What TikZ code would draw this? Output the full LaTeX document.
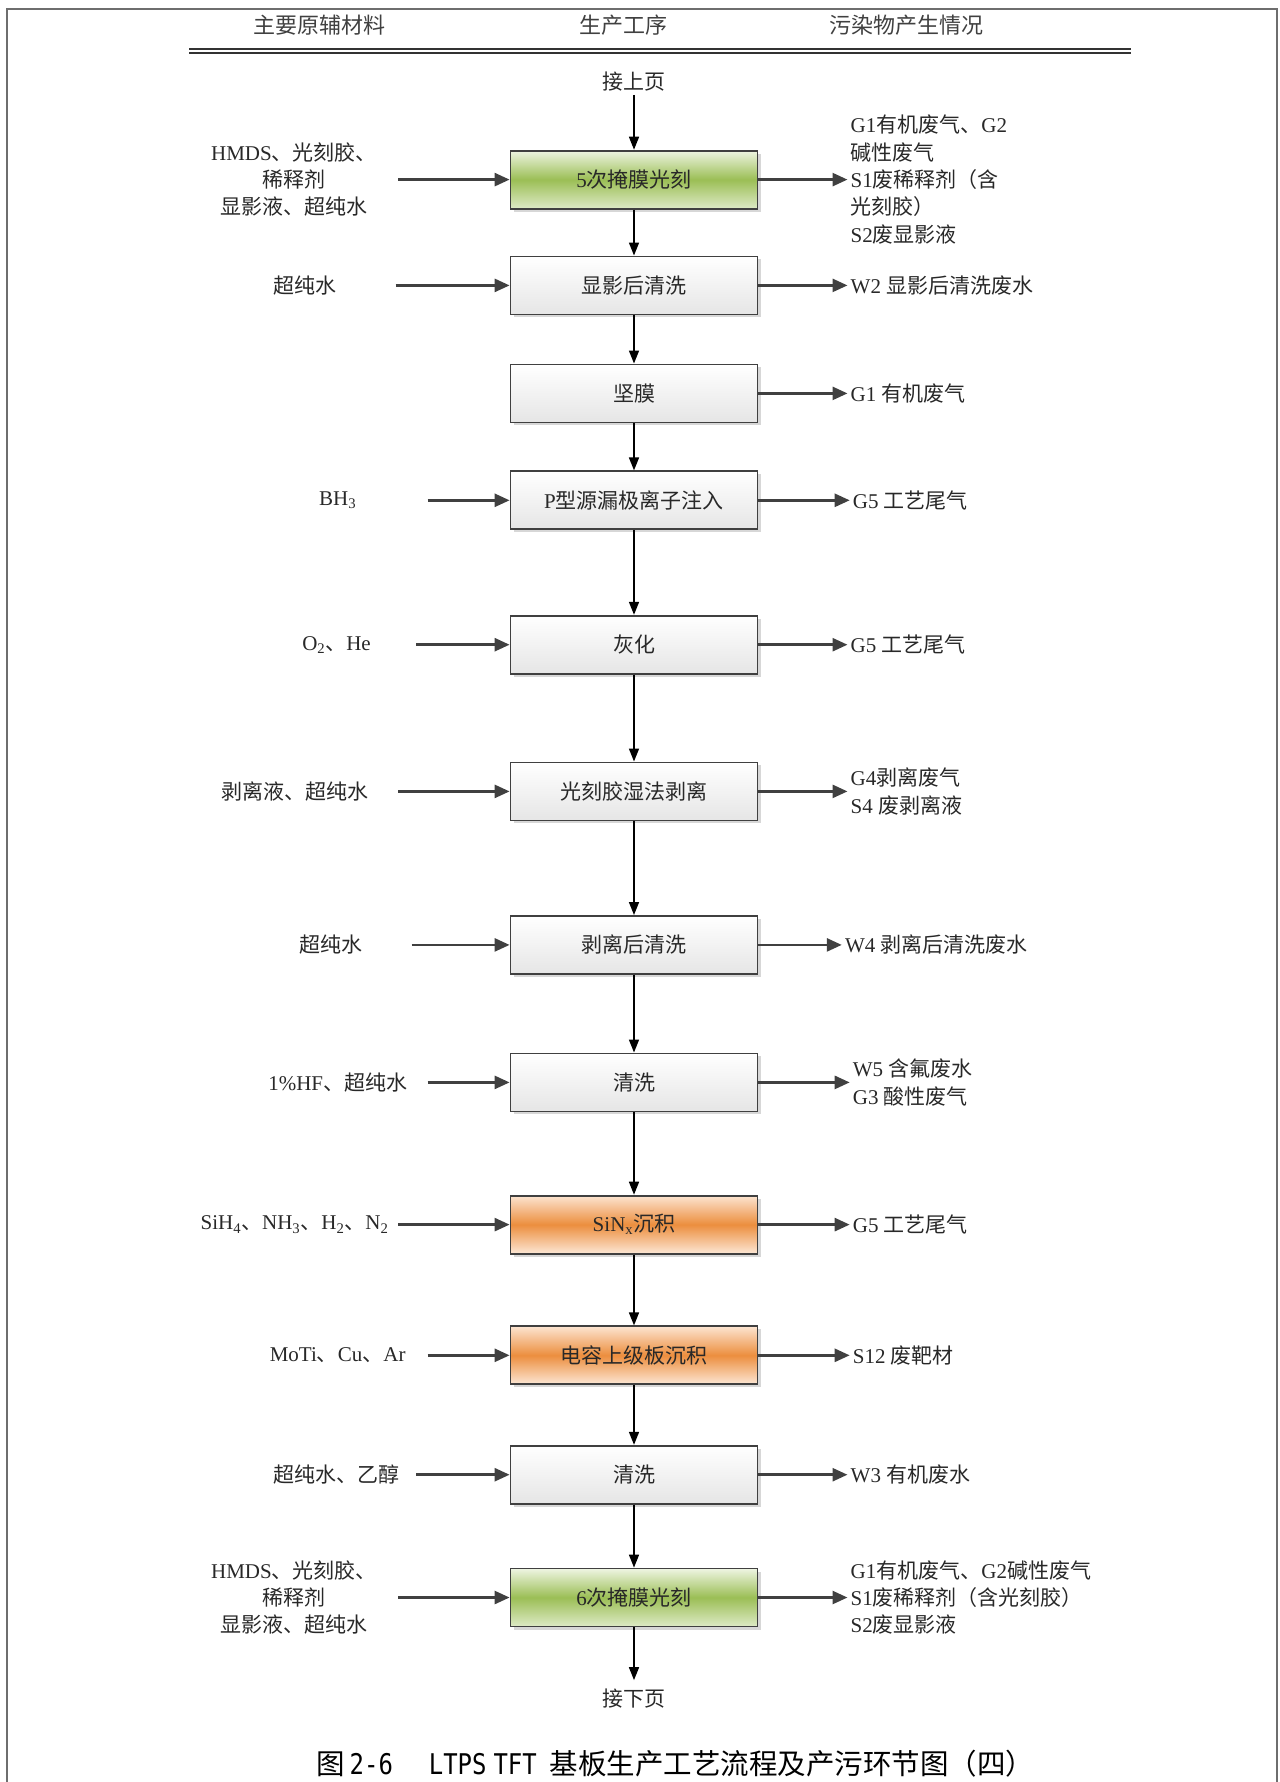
\documentclass[tikz,border=0pt]{standalone}
\usepackage{fontspec}
\setmainfont{Liberation Serif}
\setmonofont{DejaVu Sans Mono}[FakeStretch=0.84]
\newfontfamily\zhfont{Noto Sans CJK SC}
\usetikzlibrary{arrows.meta,shadows}
\newXeTeXintercharclass\zhclass
\newcount\zhc
\zhc="3000 \loop\XeTeXcharclass\zhc=\zhclass\advance\zhc by 1 \ifnum\zhc<"3040 \repeat
\zhc="4E00 \loop\XeTeXcharclass\zhc=\zhclass\advance\zhc by 1 \ifnum\zhc<"A000 \repeat
\zhc="FF00 \loop\XeTeXcharclass\zhc=\zhclass\advance\zhc by 1 \ifnum\zhc<"FF60 \repeat
\def\latinfont{\rmfamily}
\XeTeXinterchartoks 0 \zhclass = {\zhfont}
\XeTeXinterchartoks 4095 \zhclass = {\zhfont}
\XeTeXinterchartoks \zhclass 0 = {\latinfont}
\XeTeXinterchartoks 4095 0 = {\latinfont}
\XeTeXinterchartokenstate=1
\definecolor{edge}{RGB}{64,64,64}
\definecolor{txtc}{RGB}{40,40,40}
\definecolor{gtop}{RGB}{238,245,226}
\definecolor{gmid}{RGB}{155,190,85}
\definecolor{otop}{RGB}{252,228,208}
\definecolor{omid}{RGB}{236,142,62}
\definecolor{framec}{RGB}{110,110,110}
\tikzset{
  labfont/.style={font=\fontsize{21}{27.3}\selectfont, text=txtc},
  proc/.style={draw=edge, line width=1.8pt, minimum width=247pt, minimum height=58pt,
    inner sep=0pt, top color=white, bottom color=black!10, labfont,
    drop shadow={shadow xshift=3pt, shadow yshift=-3pt, fill=black!35, opacity=.45}},
  greenbox/.style={proc, top color=gtop, bottom color=gtop!80!gmid, middle color=gmid},
  orangebox/.style={proc, top color=otop, bottom color=otop!90!white, middle color=omid},
  llab/.style={labfont, align=center, inner sep=0pt},
  rlab/.style={labfont, align=left, anchor=west, inner sep=0pt},
  inarr/.style={draw=edge, line width=2.6pt, -{Triangle[length=15pt,width=13pt]}},
  flow/.style={draw=black, line width=1.6pt, -{Triangle[length=13pt,width=10pt]}},
  hdr/.style={font=\fontsize{22}{26}\selectfont, text=black!75, inner sep=0pt},
  dline/.style={draw=black!80, line width=2pt},
  framel/.style={draw=framec, line width=2.5pt},
}
\begin{document}
\begin{tikzpicture}[x=1pt,y=-1pt]
\useasboundingbox (0,0) rectangle (1279,1782);
\draw[framel] (7,1782) -- (7,9) -- (1277,9) -- (1277,1782);
% header
\node[hdr] (h1) at (319.5,25) {主要原辅材料};
\node[hdr] (h2) at (623,25) {生产工序};
\node[hdr] (h3) at (906,25) {污染物产生情况};
\draw[dline] (189,49) -- (1131,49);
\draw[dline] (189,53.5) -- (1131,53.5);
% process boxes
\node[labfont, inner sep=3pt] (top) at (634,82) {接上页};
\node[greenbox] (b1) at (634,179.6) {5次掩膜光刻};
\node[proc] (b2) at (634,285.4) {显影后清洗};
\node[proc] (b3) at (634,393.4) {坚膜};
\node[proc] (b4) at (634,500.3) {P型源漏极离子注入};
\node[proc] (b5) at (634,644.7) {灰化};
\node[proc] (b6) at (634,791.4) {光刻胶湿法剥离};
\node[proc] (b7) at (634,944.9) {剥离后清洗};
\node[proc] (b8) at (634,1082.4) {清洗};
\node[orangebox] (b9) at (634,1224.6) {SiN\textsubscript{x}沉积};
\node[orangebox] (b10) at (634,1355.3) {电容上级板沉积};
\node[proc] (b11) at (634,1474.7) {清洗};
\node[greenbox] (b12) at (634,1597.5) {6次掩膜光刻};
\node[labfont, inner sep=9pt] (bot) at (634,1699) {接下页};
% vertical flow
\draw[flow] (top) -- (b1);
\draw[flow] (b1) -- (b2);
\draw[flow] (b2) -- (b3);
\draw[flow] (b3) -- (b4);
\draw[flow] (b4) -- (b5);
\draw[flow] (b5) -- (b6);
\draw[flow] (b6) -- (b7);
\draw[flow] (b7) -- (b8);
\draw[flow] (b8) -- (b9);
\draw[flow] (b9) -- (b10);
\draw[flow] (b10) -- (b11);
\draw[flow] (b11) -- (b12);
\draw[flow] (b12) -- (bot);
% left inputs
\node[llab] (l1) at (294,179.6) {HMDS、光刻胶、\\稀释剂\\显影液、超纯水};
\node[llab] (l2) at (304.7,285.4) {超纯水};
\node[llab] (l4) at (337.7,500.3) {BH\textsubscript{3}};
\node[llab] (l5) at (336.5,644.7) {O\textsubscript{2}、He};
\node[llab] (l6) at (294.5,791.4) {剥离液、超纯水};
\node[llab] (l7) at (331,944.9) {超纯水};
\node[llab] (l8) at (337.7,1082.4) {1\%HF、超纯水};
\node[llab] (l9) at (294.5,1224.6) {SiH\textsubscript{4}、NH\textsubscript{3}、H\textsubscript{2}、N\textsubscript{2}};
\node[llab] (l10) at (337.7,1355.3) {MoTi、Cu、Ar};
\node[llab] (l11) at (336.5,1474.7) {超纯水、乙醇};
\node[llab] (l12) at (294,1597.5) {HMDS、光刻胶、\\稀释剂\\显影液、超纯水};
\coordinate (s1) at (398,179.6);
\coordinate (s2) at (395.7,285.4);
\coordinate (s4) at (427.5,500.3);
\coordinate (s5) at (416,644.7);
\coordinate (s6) at (398,791.4);
\coordinate (s7) at (411.6,944.9);
\coordinate (s8) at (427.5,1082.4);
\coordinate (s9) at (398,1224.6);
\coordinate (s10) at (427.5,1355.3);
\coordinate (s11) at (416,1474.7);
\coordinate (s12) at (398,1597.5);
\draw[inarr] (s1) -- (b1);
\draw[inarr] (s2) -- (b2);
\draw[inarr] (s4) -- (b4);
\draw[inarr] (s5) -- (b5);
\draw[inarr] (s6) -- (b6);
\draw[inarr] (s7) -- (b7);
\draw[inarr] (s8) -- (b8);
\draw[inarr] (s9) -- (b9);
\draw[inarr] (s10) -- (b10);
\draw[inarr] (s11) -- (b11);
\draw[inarr] (s12) -- (b12);
% right outputs
\node[rlab] (r1) at (850.5,179.6) {G1有机废气、G2\\碱性废气\\S1废稀释剂（含\\光刻胶）\\S2废显影液};
\node[rlab] (r2) at (850.5,285.4) {W2 显影后清洗废水};
\node[rlab] (r3) at (850.5,393.4) {G1 有机废气};
\node[rlab] (r4) at (852.7,500.3) {G5 工艺尾气};
\node[rlab] (r5) at (850.5,644.7) {G5 工艺尾气};
\node[rlab] (r6) at (850.5,791.4) {G4剥离废气\\S4 废剥离液};
\node[rlab] (r7) at (844.8,944.9) {W4 剥离后清洗废水};
\node[rlab] (r8) at (852.7,1082.4) {W5 含氟废水\\G3 酸性废气};
\node[rlab] (r9) at (852.7,1224.6) {G5 工艺尾气};
\node[rlab] (r10) at (852.7,1355.3) {S12 废靶材};
\node[rlab] (r11) at (850.5,1474.7) {W3 有机废水};
\node[rlab] (r12) at (850.5,1597.5) {G1有机废气、G2碱性废气\\S1废稀释剂（含光刻胶）\\S2废显影液};
\foreach \i in {1,...,12}{
  \draw[inarr] (b\i.east) -- ([xshift=-3pt]r\i.west |- b\i.east);
}
% caption
\node[font=\fontsize{28.5}{33}\selectfont, text=black, anchor=west, inner sep=0pt] (cap) at (316,1763.5)
  {\def\latinfont{\ttfamily}\ttfamily 图\hspace{5pt}2-6\hspace{36pt}LTPS\hspace{7pt}TFT\hspace{13pt}基板生产工艺流程及产污环节图（四）};
\end{tikzpicture}
\end{document}
